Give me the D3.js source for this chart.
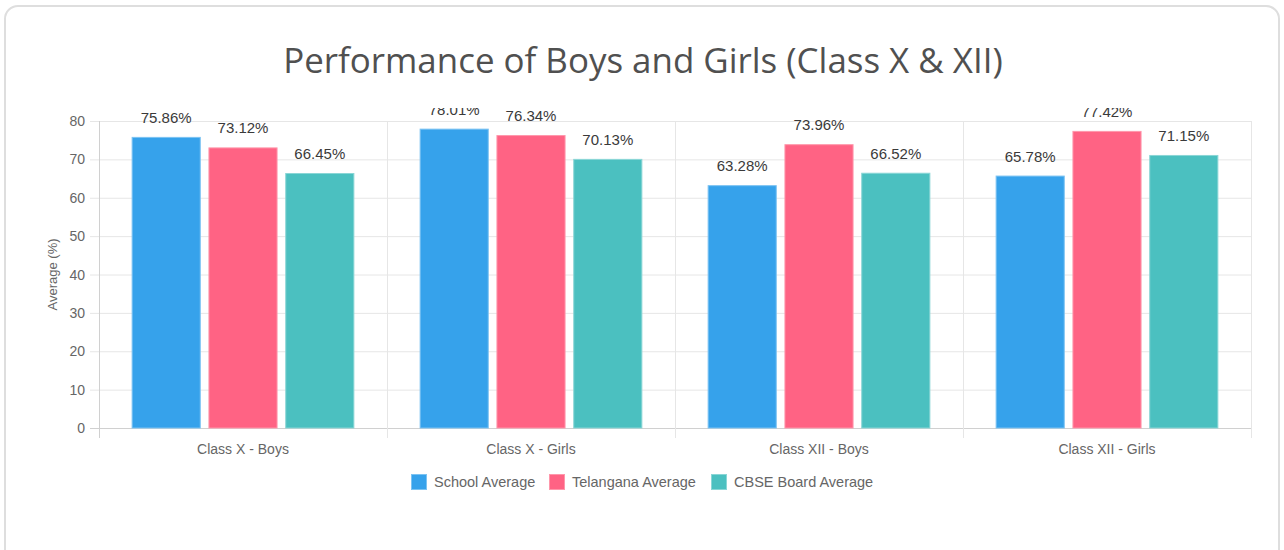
<!DOCTYPE html>
<html>
<head>
<meta charset="utf-8">
<script src="https://cdn.jsdelivr.net/npm/d3@7"></script>
<style>
  body { margin: 0; background: #fff; }
  .card { position: absolute; left: 4px; top: 5px; width: 1276px; height: 580px;
          border: 2px solid #dedede; border-radius: 14px; box-sizing: border-box; }
  svg { position: absolute; left: 0; top: 0; }
  text { font-family: "Liberation Sans", Arial, sans-serif; }
</style>
</head>
<body>
<div class="card"></div>
<svg id="chart" width="1284" height="550"></svg>
<script>
// data
const categories = ["Class X - Boys", "Class X - Girls", "Class XII - Boys", "Class XII - Girls"];
const seriesNames = ["School Average", "Telangana Average", "CBSE Board Average"];
const schoolAvg = [75.86, 78.01, 63.28, 65.78];
const telanganaAvg = [73.12, 76.34, 73.96, 77.42];
const cbseAvg = [66.45, 70.13, 66.52, 71.15];
const yTicks = [0, 10, 20, 30, 40, 50, 60, 70, 80];

const colors = ["#36A2EB", "#FF6384", "#4BC0C0"];
const borders = ["#7cc3f2", "#ff97ab", "#8ad6d6"];

const seriesVals = [schoolAvg, telanganaAvg, cbseAvg];

// plot area
const plotLeft = 99, plotRight = 1251, plotTop = 121, plotBottom = 428;

const svg = d3.select("#chart");

// title
const title = svg.append("text")
    .attr("x", 643).attr("y", 73)
    .attr("text-anchor", "middle")
    .style("font-family", "'Open Sans', sans-serif")
    .style("font-size", "33px")
    .attr("fill", "#505050")
    .text("Performance of Boys and Girls (Class X & XII)");
// squeeze to the width the title has in the picture
const tw = title.node().getComputedTextLength();
title.style("font-size", (33 * 720 / tw) + "px");

const x0 = d3.scaleBand().domain(categories).range([plotLeft, plotRight]);
const x1 = d3.scaleBand().domain(seriesNames)
    .range([x0.bandwidth() * 0.1, x0.bandwidth() * 0.9])
    .paddingInner(0.1).paddingOuter(0.05);
const y = d3.scaleLinear().domain([0, 80]).range([plotBottom, plotTop]);

// grid
const grid = svg.append("g");
grid.selectAll(".h").data(yTicks).enter().append("line")
    .attr("x1", plotLeft - 9).attr("x2", plotRight)
    .attr("y1", d => y(d) + 0.5).attr("y2", d => y(d) + 0.5)
    .attr("stroke", d => d === 0 ? "#d0d0d0" : "#e6e6e6");
grid.selectAll(".v").data(d3.range(categories.length + 1)).enter().append("line")
    .attr("x1", i => plotLeft + i * x0.bandwidth() + 0.5)
    .attr("x2", i => plotLeft + i * x0.bandwidth() + 0.5)
    .attr("y1", plotTop).attr("y2", plotBottom + 10)
    .attr("stroke", i => i === 0 ? "#d0d0d0" : "#e6e6e6");

// y axis labels
svg.append("g").selectAll("text").data(yTicks).enter().append("text")
    .attr("x", plotLeft - 14).attr("y", d => y(d) + 5)
    .attr("text-anchor", "end")
    .style("font-size", "14px").attr("fill", "#666")
    .text(d => d);

svg.append("text")
    .attr("transform", "translate(57," + ((plotTop + plotBottom) / 2) + ") rotate(-90)")
    .attr("text-anchor", "middle")
    .style("font-size", "13px").attr("fill", "#666")
    .text("Average (%)");

// x labels
svg.append("g").selectAll("text").data(categories).enter().append("text")
    .attr("x", d => x0(d) + x0.bandwidth() / 2).attr("y", 454)
    .attr("text-anchor", "middle")
    .style("font-size", "14px").attr("fill", "#666")
    .text(d => d);

// bars
const groups = svg.append("g").selectAll("g").data(categories).enter().append("g")
    .attr("transform", d => "translate(" + x0(d) + ",0)");

groups.selectAll("rect")
    .data((c, ci) => seriesNames.map((s, si) => ({ s: s, si: si, v: seriesVals[si][ci] })))
    .enter().append("rect")
    .attr("x", d => x1(d.s) + 0.5)
    .attr("y", d => y(d.v) + 0.5)
    .attr("width", x1.bandwidth() - 1)
    .attr("height", d => plotBottom - y(d.v) - 0.5)
    .attr("fill", d => colors[d.si])
    .attr("stroke", d => borders[d.si])
    .attr("stroke-width", 1);

// value labels, clipped at the top like the original
svg.append("clipPath").attr("id", "lblclip")
  .append("rect").attr("x", 0).attr("y", 108).attr("width", 1284).attr("height", 400);

groups.append("g").attr("clip-path", "url(#lblclip)")
    .selectAll("text")
    .data((c, ci) => seriesNames.map((s, si) => ({ s: s, si: si, v: seriesVals[si][ci] })))
    .enter().append("text")
    .attr("x", d => x1(d.s) + x1.bandwidth() / 2)
    .attr("y", d => y(d.v) - 14)
    .attr("text-anchor", "middle")
    .style("font-size", "15px").attr("fill", "#3a3a3a")
    .text(d => d.v.toFixed(2) + "%");

// legend
const legendX = [411, 549, 711];
const legend = svg.append("g").selectAll("g").data(seriesNames).enter().append("g")
    .attr("transform", (d, i) => "translate(" + legendX[i] + ",474)");
legend.append("rect")
    .attr("x", 0.5).attr("y", 0.5).attr("width", 15).attr("height", 15)
    .attr("fill", (d, i) => colors[i]).attr("stroke", (d, i) => borders[i]);
legend.append("text")
    .attr("x", 23).attr("y", 13)
    .style("font-size", "14.5px").attr("fill", "#666")
    .text(d => d);
</script>
</body>
</html>
